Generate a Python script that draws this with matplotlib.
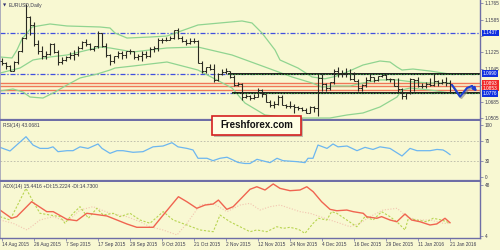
import matplotlib
matplotlib.use('Agg')
import matplotlib.pyplot as plt
import matplotlib.patheffects as pe
from matplotlib.patches import Rectangle
import pandas as pd

# ---------------- data ----------------
opens = [1.1135,1.1105,1.1080,1.1025,1.1115,1.1240,1.1385,1.1615,1.1520,1.1315,1.1245,1.1185,
         1.1210,1.1315,1.1230,1.1120,1.1145,1.1170,1.1200,1.1205,1.1275,1.1335,1.1315,1.1265,1.1290,1.1435,1.1300,1.1195,1.1135,1.1185,1.1215,1.1195,1.1240,1.1245,
         1.1175,1.1190,1.1210,1.1185,1.1265,1.1270,1.1360,1.1355,1.1360,1.1380,1.1470,1.1385,1.1350,1.1325,1.1345,1.1345,1.1110,1.1015,1.1060,1.1045,1.0925,1.0985,
         1.1005,1.1015,1.0955,1.0865,1.0880,1.0740,1.0750,1.0720,1.0735,1.0815,1.0770,1.0685,1.0645,1.0655,1.0735,1.0645,1.0635,1.0640,1.0625,1.0610,1.0595,
         1.0565,1.0630,1.0615,1.0940,1.0880,1.0835,1.0895,1.1020,1.0990,1.0990,1.0995,1.0935,1.0915,1.0830,1.0865,1.0920,1.0955,1.0920,1.0965,1.0975,1.0935,1.0930,
         1.0860,1.0825,1.0745,1.0780,1.0930,1.0925,1.0855,1.0855,1.0875,1.0865,1.0915,1.0890,1.0905,1.0890]
highs = [1.1165,1.1115,1.1090,1.1125,1.1245,1.1390,1.1755,1.1620,1.1555,1.1355,1.1290,1.1235,
         1.1330,1.1330,1.1250,1.1170,1.1180,1.1225,1.1250,1.1295,1.1345,1.1370,1.1330,1.1300,1.1460,1.1440,1.1325,1.1205,1.1190,1.1240,1.1235,1.1245,1.1265,1.1245,
         1.1205,1.1245,1.1245,1.1285,1.1290,1.1385,1.1385,1.1395,1.1405,1.1475,1.1495,1.1400,1.1370,1.1385,1.1385,1.1355,1.1125,1.1065,1.1095,1.1095,1.0995,1.1040,
         1.1055,1.1025,1.0975,1.0905,1.0890,1.0765,1.0760,1.0765,1.0830,1.0820,1.0770,1.0700,1.0690,1.0760,1.0760,1.0660,1.0690,1.0660,1.0635,1.0625,1.0615,
         1.0640,1.0640,1.0985,1.0985,1.0890,1.0900,1.1045,1.1060,1.1030,1.1050,1.1045,1.1010,1.0930,1.0880,1.0950,1.0990,1.0960,1.0970,1.0990,1.0990,1.0945,1.0935,
         1.0945,1.0835,1.0790,1.0945,1.0935,1.0950,1.0890,1.0905,1.0945,1.0985,1.0925,1.0935,1.0950,1.0925]
lows = [1.1085,1.1045,1.1015,1.1015,1.1100,1.1225,1.1375,1.1420,1.1290,1.1210,1.1155,1.1155,
        1.1200,1.1215,1.1085,1.1095,1.1130,1.1150,1.1145,1.1185,1.1260,1.1300,1.1250,1.1240,1.1270,1.1285,1.1170,1.1085,1.1105,1.1160,1.1155,1.1165,1.1205,1.1155,
        1.1145,1.1125,1.1165,1.1175,1.1225,1.1235,1.1325,1.1345,1.1355,1.1370,1.1375,1.1340,1.1305,1.1320,1.1325,1.1105,1.0995,1.0995,1.1035,1.0895,1.0915,1.0975,
        1.0990,1.0945,1.0855,1.0860,1.0705,1.0725,1.0705,1.0715,1.0730,1.0735,1.0675,1.0630,1.0615,1.0650,1.0645,1.0615,1.0615,1.0565,1.0590,1.0580,1.0555,
        1.0560,1.0575,1.0525,1.0800,1.0800,1.0815,1.0880,1.0960,1.0950,1.0960,1.0925,1.0910,1.0805,1.0805,1.0850,1.0910,1.0895,1.0915,1.0950,1.0920,1.0905,1.0855,
        1.0795,1.0710,1.0710,1.0770,1.0800,1.0850,1.0830,1.0835,1.0860,1.0855,1.0860,1.0880,1.0860,1.0780]
closes = [1.1105,1.1080,1.1025,1.1115,1.1240,1.1385,1.1615,1.1520,1.1315,1.1245,1.1185,1.1210,
          1.1315,1.1230,1.1120,1.1145,1.1170,1.1200,1.1205,1.1275,1.1335,1.1315,1.1265,1.1290,1.1435,1.1300,1.1195,1.1135,1.1185,1.1215,1.1195,1.1240,1.1245,1.1175,
          1.1190,1.1210,1.1185,1.1265,1.1270,1.1360,1.1355,1.1360,1.1380,1.1470,1.1385,1.1350,1.1325,1.1345,1.1345,1.1110,1.1015,1.1060,1.1045,1.0925,1.0985,1.1005,
          1.1015,1.0955,1.0865,1.0880,1.0740,1.0750,1.0720,1.0735,1.0815,1.0770,1.0685,1.0645,1.0655,1.0735,1.0645,1.0635,1.0640,1.0625,1.0610,1.0595,1.0565,
          1.0630,1.0615,1.0940,1.0880,1.0835,1.0895,1.1020,1.0990,1.0990,1.0995,1.0935,1.0915,1.0830,1.0865,1.0920,1.0955,1.0920,1.0965,1.0975,1.0935,1.0930,1.0860,
          1.0825,1.0745,1.0780,1.0930,1.0925,1.0855,1.0855,1.0875,1.0865,1.0915,1.0890,1.0905,1.0890,1.0875]

# Bollinger-type green bands (bar index, price)
bb_up_idx = [-0.5,2.5,3.75,5,7.5,12,16.25,24.5,27,28.25,31.25,37,41.25,49,60,62.5,65,68.25,69.5,74,77.5,80.75,83.25,86.25,90.25,94.5,97,98.75,100,102.75,107,112]
bb_up = [1.1174,1.1163,1.1251,1.1371,1.1503,1.1536,1.1514,1.1503,1.1492,1.1437,1.1382,1.1393,1.1404,1.1525,1.1569,1.1547,1.1437,1.1251,1.1141,1.1053,1.0955,1.0935,1.0960,1.1009,1.1086,1.1130,1.1119,1.1064,1.1031,1.1042,1.1020,1.0987]
bb_mid_idx = [-0.5,4.5,7.75,12,16.25,24.5,27,32.75,41.25,49,57.5,65.75,72.5,77.5,80,83.25,87,90.25,94.5,98.75,102.75,107,112]
bb_mid = [1.0998,1.1053,1.1141,1.1174,1.1196,1.1283,1.1273,1.1229,1.1273,1.1283,1.1196,1.1064,1.0955,1.0889,1.0845,1.0856,1.0856,1.0889,1.0922,1.0922,1.0900,1.0889,1.0889]
bb_lo_idx = [-0.5,2.75,5.25,7,10.25,13.25,16.25,19.5,23.75,27,28.25,32.75,41.25,49,57.5,60.75,65.75,70,74,82,86.25,90.25,94.5,98.75,100,102,107,112]
bb_lo = [1.0801,1.0823,1.0790,1.0735,1.0724,1.0790,1.0867,1.0944,1.0987,1.1031,1.1053,1.1075,1.1119,1.1031,1.0834,1.0669,1.0538,1.0516,1.0505,1.0505,1.0538,1.0560,1.0626,1.0735,1.0812,1.0834,1.0812,1.0779]

# RSI(14)
rsi_idx = [-0.5,2,6,7.75,9.5,11.5,12.75,14,16.25,17.75,19.5,21.5,24,25,27,28.75,30.25,32.75,35.25,37.75,40.25,42.5,44,46.25,47.75,49,51.25,52.75,54.5,56.25,57.75,59,60.75,62,63.75,67,68.75,70.25,73.75,75.75,76.5,77.75,79,81.25,82.75,84,86.25,88.75,90.75,92.75,94.5,97,100,102,103.75,107,108.75,110.25,111,112]
rsi_val = [57,50,77.5,61.5,55,55,58,48.7,50.6,50.6,58,55,63.5,55,45.5,50.6,50.6,47.5,48.7,58,59.6,66,58,55,52,36,36,31.4,36,38,32.7,28,26,26,34,27.6,36,31.4,29.5,27.6,36,36,61.5,55,63.5,58,59.6,50.6,57,53,58,55,40.4,55,50.6,50.6,53,52,48.7,43.07]

# ADX(14), +DI, -DI
adx_idx = [-0.5,2.4,3.7,7.4,11.2,12.8,16.2,18.7,21.2,23.25,26.2,31.2,33.7,37.8,40.3,44.1,46.2,48.7,50.75,52.8,54.1,56.2,57.8,62,63.7,65.75,67.8,69.5,72,74.5,76.2,77.8,79.9,82,83.7,86.2,87.8,90.3,91.2,93.7,94.9,97,98.7,100.75,102.4,104.5,107,108.7,110.75,112]
adx_val = [26.4,19.3,20.7,33.6,25,25,18.4,17.2,23.6,22.7,21.3,14.4,11.5,11.5,22.1,37.9,33.6,27.9,30.7,31.6,35,27,29.3,44.3,46.5,43.7,48.9,45.1,43.1,43.7,46.5,42.2,33.6,27,25.8,26.4,25,23.6,20.6,19.3,20.7,17.8,16.3,23,17.8,16.3,13.5,14.4,19.3,15.44]
pdi_idx = [-0.5,2,6,7.8,9.5,12,14.5,15.75,17.4,19.5,21.6,23.7,25.3,27.8,29.5,32,34.5,37,40.3,42.8,46.2,49.5,52.8,54.5,57,59.5,62,63.7,66.2,68.7,70.3,72,74.1,75.75,77.8,79.1,81.2,82.4,83.7,86.2,88.7,90.75,92.8,94.9,97,99.1,100.75,101.6,103.7,106.2,107.8,109.9,112]
pdi_val = [20.7,17.8,45.1,33.6,23.6,22.1,20.7,15,22.1,29.3,19.3,27.9,22.1,23.6,20.7,23.6,17.8,15,25,17.8,13.5,9.2,7.7,22.1,16.3,12,7.7,9.2,7.7,12,10.6,11.5,9.8,6.3,15,19.3,17.8,25,23.6,17.8,12,20.7,17.8,25,20.7,15,9.2,19.3,17.8,16.3,19.3,17.8,15.22]
mdi_idx = [-0.5,2.75,6.25,9.5,12.75,16.25,19.5,22.75,27,31.25,34.5,37,40.25,43.75,46.25,49.5,52.75,56.25,59.5,62,64.5,67,69.5,72,74.5,77,79.5,82,84.5,87,89.5,92,95.25,98.75,101.25,103.75,107,110.25,112]
mdi_val = [17.8,15,9.2,17.8,20.7,16.3,26.4,29.3,23.6,20.7,16.3,12,9.2,4.9,15,30.7,32.2,25,30.7,32.2,26.4,29.3,30.7,27.9,25,23.6,20.7,17.8,15,12,15,20.7,26.4,27.9,20.7,17.8,17.8,15,14.73]

# levels and labels
blue_levels = [1.1437, 1.0990, 1.0776]
red_levels = [1.0885, 1.0855, 1.0815]
channel_levels = [1.0990, 1.0776]
channel_start = [56.5, 57.5]
price_ticks = [1.1765, 1.1585, 1.1405, 1.1225, 1.1045, 1.0865, 1.0685, 1.0505]
price_tick_labels = ['1.1765', '1.1585', '', '1.1225', '1.1045', '', '1.0685', '1.0505']
box_labels = ['1.1437', '1.0990', '1.0893\n1.0853', '1.0776']
box_colors = ['#1030E0', '#1030E0', '#F02828', '#1030E0']
fc_idx = [112.5, 114.5, 115.25, 116.25, 117.5]
fc_val = [1.0867, 1.0739, 1.0779, 1.0834, 1.0856]
fc_head = (118.75, 1.0795)
date_tick_labels = ['14 Aug 2015', '26 Aug 2015', '7 Sep 2015', '17 Sep 2015', '29 Sep 2015',
                    '9 Oct 2015', '21 Oct 2015', '2 Nov 2015', '12 Nov 2015', '24 Nov 2015',
                    '4 Dec 2015', '16 Dec 2015', '29 Dec 2015', '11 Jan 2016', '21 Jan 2016']

# trading-day positions
days = pd.bdate_range('2015-08-14', '2016-01-21')
days = days[~days.isin(pd.to_datetime(['2015-12-25', '2016-01-01']))]
pos = {d: i for i, d in enumerate(days)}
xb = list(range(len(days)))
tick_pos = [pos[pd.Timestamp(pd.to_datetime(s, format='%d %b %Y'))] for s in date_tick_labels]

# ---------------- style ----------------
BG = '#F8F8D2'
FRAME = '#6E6EA6'
TXT = '#3C3C50'
FONT = 'Liberation Sans'
FS = 3.4
W, H = 500, 250
fig = plt.figure(figsize=(5, 2.5), dpi=100, facecolor=BG)

def box(y0, y1):
    return [0, 1 - y1 / H, 480 / W, (y1 - y0) / H]

ax = fig.add_axes(box(0, 120))
axr = fig.add_axes(box(121, 181))
axa = fig.add_axes(box(182, 238))
XL = (-0.5, 119.5)
for a in (ax, axr, axa):
    a.set_facecolor(BG)
    a.set_xlim(*XL)
    for s in a.spines.values():
        s.set_color(FRAME)
    a.spines['left'].set_color('#A0A0B8')
    a.spines['left'].set_linewidth(0.6)
    a.spines['right'].set_linewidth(1.0)
    a.spines['top'].set_visible(False)
    a.spines['bottom'].set_linewidth(1.6)
    a.yaxis.tick_right()
    a.tick_params(axis='y', length=2, width=0.5, colors=FRAME, labelsize=FS,
                  labelcolor=TXT, pad=1.2)
    a.tick_params(axis='x', length=0)
    a.set_xticks([])
axa.spines['bottom'].set_linewidth(1.0)

# ---------------- main panel ----------------
ax.set_ylim(1.0483, 1.1799)
ax.set_yticks(price_ticks)
ax.set_yticklabels(price_tick_labels, family=FONT, fontsize=FS)

for lv in blue_levels:
    ax.axhline(lv, color='#4050E0', lw=0.9, dashes=[4, 1.5, 1, 1.5], zorder=1)
for lv in red_levels:
    ax.axhline(lv, color='#F07858', lw=1.0, zorder=1)
for lv, st in zip(channel_levels, channel_start):
    ax.plot([st, XL[1]], [lv, lv], color='#101010', lw=1.3, zorder=2,
            solid_capstyle='butt')
    ax.plot([st, XL[1]], [lv, lv], color='#40A040', lw=0.7, ls=(0, (1.5, 1.5)), zorder=2.1)

ax.plot(bb_up_idx, bb_up, color='#90D490', lw=0.9, zorder=1.5)
ax.plot(bb_mid_idx, bb_mid, color='#90D490', lw=0.9, zorder=1.5)
ax.plot(bb_lo_idx, bb_lo, color='#90D490', lw=0.9, zorder=1.5)

BAR = '#2A2A22'
ax.vlines(xb, lows, highs, color=BAR, lw=0.8, zorder=3)
ax.hlines(opens, [x - 0.45 for x in xb], xb, color=BAR, lw=0.7, zorder=3)
ax.hlines(closes, xb, [x + 0.45 for x in xb], color=BAR, lw=0.7, zorder=3)

shadow = [pe.SimpleLineShadow(offset=(1, -1), shadow_color='#808080', alpha=0.6), pe.Normal()]
ax.plot(fc_idx, fc_val, color='#1E40D0', lw=1.5, zorder=4, path_effects=shadow,
        solid_capstyle='round', solid_joinstyle='round')
ax.annotate('', xy=fc_head, xytext=(fc_idx[-1], fc_val[-1]),
            arrowprops=dict(arrowstyle='-|>', color='#1E40D0', lw=1.5, mutation_scale=5,
                            shrinkA=0, shrinkB=0), zorder=4)

# boxed price labels on the right axis (pixel rows of the reference scale)
box_rows = [33.0, 73.8, 85.5, 93.2]
for row, s, fc in zip(box_rows, box_labels, box_colors):
    fig.text(483 / W, 1 - row / H, s, fontsize=FS, family=FONT, color='white',
             va='center', ha='left', zorder=12, linespacing=1.0,
             bbox=dict(boxstyle='square,pad=0.18', fc=fc, ec='none'))

fig.text(3 / W, 1 - 5.5 / H, '\u25BC', fontsize=3.0, color='#303070', va='center', ha='left')
fig.text(9 / W, 1 - 5.5 / H, 'EURUSD,Daily', fontsize=3.6, family=FONT, color=TXT,
         va='center', ha='left')

# ---------------- RSI ----------------
axr.set_ylim(-7.7, 107.7)
axr.set_yticks([100, 70, 30, 0])
axr.set_yticklabels(['100', '70', '30', '0'], family=FONT, fontsize=FS)
for lv in (70, 30):
    axr.axhline(lv, color='#B8B8A8', lw=0.6, ls=(0, (2, 2)))
axr.plot(rsi_idx, rsi_val, color='#6CB6F0', lw=0.9)
fig.text(3 / W, 1 - 125.5 / H, 'RSI(14) 43.0681', fontsize=3.6, family=FONT, color=TXT,
         va='center', ha='left')

# ---------------- ADX ----------------
axa.set_ylim(2.27, 50.6)
axa.set_yticks([48, 4])
axa.set_yticklabels(['48', '4'], family=FONT, fontsize=FS)
axa.plot(mdi_idx, mdi_val, color='#F2C4B0', lw=0.8, ls=(0, (1, 1.5)))
axa.plot(pdi_idx, pdi_val, color='#B8D450', lw=0.8, ls=(0, (2, 1.5)))
axa.plot(adx_idx, adx_val, color='#F06450', lw=1.0)
fig.text(3 / W, 1 - 186.5 / H, 'ADX(14) 15.4416 +DI:15.2224 -DI:14.7300', fontsize=3.6,
         family=FONT, color=TXT, va='center', ha='left')

axa.set_xticks(tick_pos)
axa.set_xticklabels(date_tick_labels, fontsize=FS, family=FONT, color=TXT, ha='left')
axa.tick_params(axis='x', length=2, width=0.5, colors=FRAME, labelcolor=TXT, pad=1)

# ---------------- logo ----------------
lx0, ly0, lx1, ly1 = 212, 116, 301, 135
fig.patches.append(Rectangle((lx0 / W + 2 / W, 1 - ly1 / H - 2 / H), (lx1 - lx0) / W, (ly1 - ly0) / H,
                             transform=fig.transFigure, fc='#9A9A90', ec='none', alpha=0.6, zorder=9))
fig.patches.append(Rectangle((lx0 / W, 1 - ly1 / H), (lx1 - lx0) / W, (ly1 - ly0) / H,
                             transform=fig.transFigure, fc='#FFFFE4', ec='#D42020', lw=1.2, zorder=10))
fig.text((lx0 + lx1) / 2 / W, 1 - (ly0 + ly1) / 2 / H, 'Freshforex.com', fontsize=7,
         fontweight='bold', family=FONT, color='#111111',
         ha='center', va='center', zorder=11)

fig.savefig('out.png', dpi=100, facecolor=BG)
